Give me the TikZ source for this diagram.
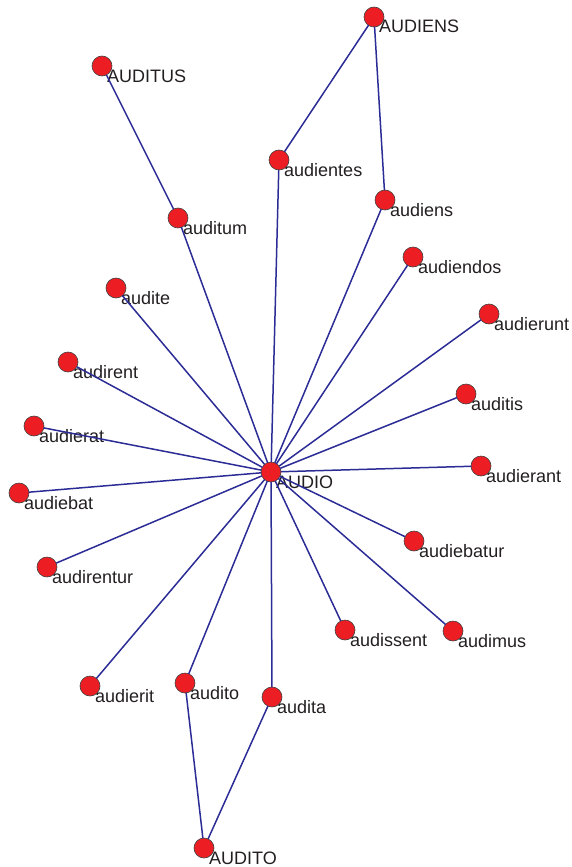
\documentclass[tikz,border=0pt]{standalone}
\usepackage{fontspec}
\setmainfont{Liberation Sans}
\usetikzlibrary{calc}
\definecolor{dotred}{RGB}{236,30,36}
\definecolor{linkblue}{RGB}{44,44,150}
\definecolor{txtgray}{RGB}{35,31,32}
% a word form: red dot with its text below right
\newcommand{\form}[4]{%
	\node[dot] (#1) at (#2,#3) {};
	\node[word] (#1-t) at ($(#1)+(5,16)$) {#4};}
\begin{document}
\begin{tikzpicture}[x=1pt,y=-1pt,line join=round,line cap=round,
	dot/.style={circle,draw=black!75,line width=.6pt,fill=dotred,minimum size=20pt,inner sep=0pt},
	link/.style={draw=linkblue,line width=1.5pt},
	word/.style={text=txtgray,font=\fontsize{18}{20}\selectfont,anchor=base west,inner sep=0pt}]
	\useasboundingbox (0,0) rectangle (572,867);
	% centre
	\form{AUDIO}{271}{472}{AUDIO}
	% upper forms
	\form{AUDIENS}{374}{17}{AUDIENS}
	\form{AUDITUS}{102}{66}{AUDITUS}
	\form{audientes}{279}{160}{audientes}
	\form{audiens}{385}{200}{audiens}
	\form{auditum}{178}{218}{auditum}
	\form{audiendos}{413}{257}{audiendos}
	\form{audite}{116}{288}{audite}
	\form{audierunt}{489}{314}{audierunt}
	\form{audirent}{68}{362}{audirent}
	\form{auditis}{466}{394}{auditis}
	\form{audierat}{34}{426}{audierat}
	% lower forms
	\form{audierant}{481}{466}{audierant}
	\form{audiebat}{19}{493}{audiebat}
	\form{audiebatur}{414}{541}{audiebatur}
	\form{audirentur}{47}{567}{audirentur}
	\form{audissent}{345}{630}{audissent}
	\form{audimus}{453}{631}{audimus}
	\form{audierit}{90}{686}{audierit}
	\form{audito}{185}{683}{audito}
	\form{audita}{272}{697}{audita}
	\form{AUDITO}{204}{848}{AUDITO}
	% links
	\foreach \w in {audientes,audiens,auditum,audiendos,audite,audierunt,audirent,auditis,audierat,audierant,audiebat,audiebatur,audirentur,audissent,audimus,audierit,audito,audita}
	\draw[link] (AUDIO)--(\w);
	\draw[link] (AUDIENS)--(audientes);
	\draw[link] (AUDIENS)--(audiens);
	\draw[link] (AUDITUS)--(auditum);
	\draw[link] (AUDITO)--(audito);
	\draw[link] (AUDITO)--(audita);
\end{tikzpicture}
\end{document}
